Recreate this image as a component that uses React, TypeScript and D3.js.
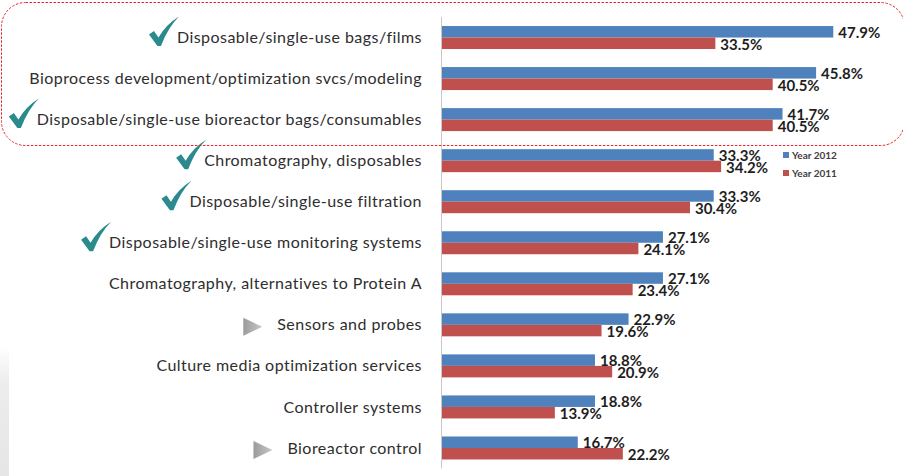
import React, { useEffect, useRef } from "react";
import * as d3 from "d3";

const categories = [
  "Disposable/single-use bags/films",
  "Bioprocess development/optimization svcs/modeling",
  "Disposable/single-use bioreactor bags/consumables",
  "Chromatography, disposables",
  "Disposable/single-use filtration",
  "Disposable/single-use monitoring systems",
  "Chromatography, alternatives to Protein A",
  "Sensors and probes",
  "Culture media optimization services",
  "Controller systems",
  "Bioreactor control",
];

const year2012 = [47.9, 45.8, 41.7, 33.3, 33.3, 27.1, 27.1, 22.9, 18.8, 18.8, 16.7];
const year2011 = [33.5, 40.5, 40.5, 34.2, 30.4, 24.1, 23.4, 19.6, 20.9, 13.9, 22.2];

const seriesNames = ["Year 2012", "Year 2011"];
const seriesColors = ["#4f81bd", "#c0504d"];

// categories flagged with a tick or an arrow in front of their label
const checked = [
  "Disposable/single-use bags/films",
  "Disposable/single-use bioreactor bags/consumables",
  "Chromatography, disposables",
  "Disposable/single-use filtration",
  "Disposable/single-use monitoring systems",
];
const arrowed = ["Sensors and probes", "Bioreactor control"];

const W = 903;
const H = 476;

export default function App() {
  const ref = useRef<SVGSVGElement>(null);

  useEffect(() => {
    const svg = d3.select(ref.current);
    svg.selectAll("*").remove();

    const axisX = 441;
    const x = d3.scaleLinear().domain([0, 50]).range([axisX, axisX + 409.5]);
    const y = d3
      .scaleBand<string>()
      .domain(categories)
      .range([17, 468.5])
      .paddingInner(0.44)
      .paddingOuter(0.22);
    const inner = d3.scaleBand<string>().domain(seriesNames).range([0, y.bandwidth()]);

    const defs = svg.append("defs");
    const grad = defs
      .append("linearGradient")
      .attr("id", "edge")
      .attr("x1", 0)
      .attr("y1", 0)
      .attr("x2", 0)
      .attr("y2", 1);
    grad.append("stop").attr("offset", 0).attr("stop-color", "#fff");
    grad.append("stop").attr("offset", 0.3).attr("stop-color", "#ececec");
    grad.append("stop").attr("offset", 1).attr("stop-color", "#e6e6e6");

    const tri = defs
      .append("linearGradient")
      .attr("id", "tri")
      .attr("x1", 0)
      .attr("x2", 1);
    tri.append("stop").attr("offset", 0).attr("stop-color", "#9a9a9a");
    tri.append("stop").attr("offset", 1).attr("stop-color", "#c8c8c8");

    svg.append("rect").attr("width", W).attr("height", H).attr("fill", "#fff");
    svg
      .append("rect")
      .attr("x", 0)
      .attr("y", 345)
      .attr("width", 9)
      .attr("height", H - 345)
      .attr("fill", "url(#edge)");

    // bars
    const series = [year2012, year2011];
    const g = svg.append("g");
    categories.forEach((c, i) => {
      series.forEach((vals, s) => {
        const y0 = (y(c) as number) + (inner(seriesNames[s]) as number);
        g.append("rect")
          .attr("x", x(0))
          .attr("y", y0)
          .attr("width", x(vals[i]) - x(0))
          .attr("height", inner.bandwidth())
          .attr("fill", seriesColors[s]);
      });
    });

    // value labels
    categories.forEach((c, i) => {
      series.forEach((vals, s) => {
        const cy = (y(c) as number) + (inner(seriesNames[s]) as number) + inner.bandwidth() / 2;
        g.append("text")
          .attr("x", x(vals[i]) + 5)
          .attr("y", cy + 1)
          .attr("dy", "0.35em")
          .attr("font-family", "Lato, 'Open Sans', sans-serif")
          .attr("font-weight", 700)
          .attr("font-size", 15)
          .attr("fill", "#1e1e1e")
          .text(vals[i].toFixed(1) + "%");
      });
    });

    // vertical category axis
    svg
      .append("line")
      .attr("x1", axisX + 0.5)
      .attr("x2", axisX + 0.5)
      .attr("y1", 17)
      .attr("y2", 468.5)
      .attr("stroke", "#c8c8c8");

    // category labels with their markers
    const labelRight = 422;
    categories.forEach((c) => {
      const cy = (y(c) as number) + y.bandwidth() / 2;
      const t = svg
        .append("text")
        .attr("x", labelRight)
        .attr("y", cy)
        .attr("dy", "0.35em")
        .attr("text-anchor", "end")
        .attr("font-family", "Lato, 'Open Sans', sans-serif")
        .attr("font-size", 16)
        .attr("letter-spacing", 0.45)
        .attr("fill", "#2e2e2e")
        .text(c);
      const left = labelRight - (t.node() as SVGTextElement).getComputedTextLength();
      if (checked.includes(c)) {
        svg
          .append("path")
          .attr("transform", `translate(${left - 28},${cy - 21})`)
          .attr(
            "d",
            "M0,18 L5,14.5 L9.5,21 Q17,8 30,0 Q19,11 12,29.5 L8.5,29.5 Z"
          )
          .attr("fill", "#2b8a8d");
      }
      if (arrowed.includes(c)) {
        svg
          .append("path")
          .attr("transform", `translate(${left - 34},${cy + 2})`)
          .attr("d", "M0,-9 L19,0 L0,9 Z")
          .attr("fill", "url(#tri)");
      }
    });

    // legend
    const lg = svg.append("g").attr("transform", "translate(783,155)");
    seriesNames.forEach((n, s) => {
      lg.append("rect")
        .attr("x", 0)
        .attr("y", s * 18 - 3)
        .attr("width", 6)
        .attr("height", 6)
        .attr("fill", seriesColors[s]);
      lg.append("text")
        .attr("x", 9)
        .attr("y", s * 18)
        .attr("dy", "0.35em")
        .attr("font-family", "Lato, 'Open Sans', sans-serif")
        .attr("font-weight", 700)
        .attr("font-size", 10)
        .attr("fill", "#404040")
        .text(n);
    });

    // highlight frame around the top three items
    svg
      .append("rect")
      .attr("x", 1.5)
      .attr("y", 2.5)
      .attr("width", 903)
      .attr("height", 143)
      .attr("rx", 24)
      .attr("ry", 24)
      .attr("fill", "none")
      .attr("stroke", "#e8262b")
      .attr("stroke-width", 1)
      .attr("stroke-dasharray", "2.5,1.5");
  }, []);

  return (
    <div style={{ position: "absolute", left: 0, top: 0 }}>
      <svg ref={ref} width={W} height={H} style={{ display: "block" }} />
    </div>
  );
}
